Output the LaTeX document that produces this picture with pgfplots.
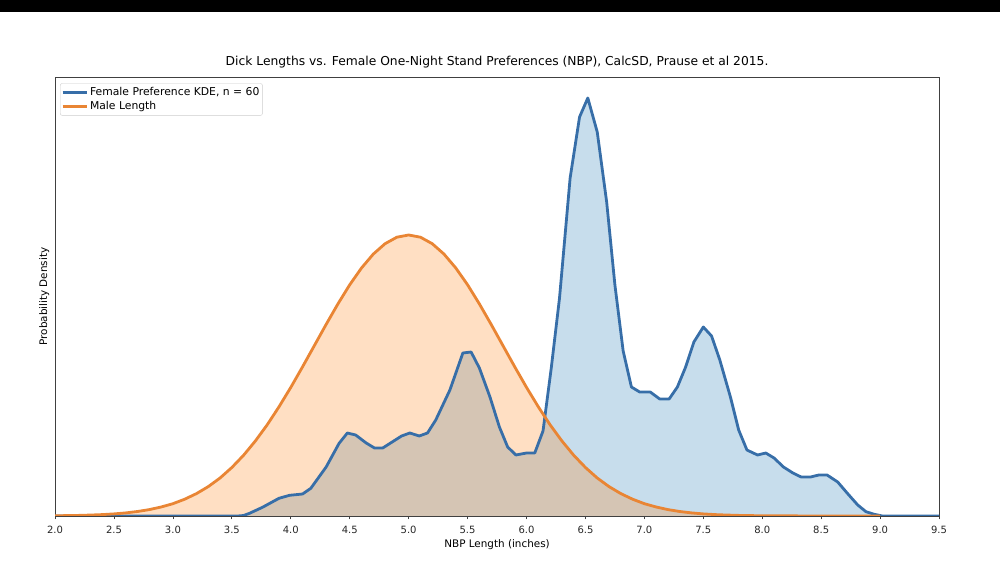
\documentclass[border=0pt]{standalone}
\usepackage{fontspec}
\setmainfont{DejaVu Sans}
\usepackage{pgfplots}
\pgfplotsset{compat=1.18}

\definecolor{kdeblue}{RGB}{31,119,180}
\definecolor{kdeblueline}{RGB}{55,110,168}
\definecolor{maleorange}{RGB}{255,127,14}
\definecolor{maleorangeline}{RGB}{233,133,52}

% Female preference KDE (x in inches, density in plot units)
\pgfplotstableread{
x h
2.00 0
3.55 0
3.60 0.5
3.65 2.7
3.76 8.7
3.90 17.7
3.99 20.7
4.10 22
4.17 27.7
4.30 49
4.41 72.7
4.48 83
4.55 81
4.64 73
4.71 68
4.78 68
4.86 74
4.94 80
5.01 83
5.09 80
5.16 83
5.23 96
5.35 126
5.46 163
5.53 164
5.60 148
5.69 119
5.77 89
5.84 69
5.91 61
6.00 63
6.07 63
6.14 85
6.21 148
6.28 218
6.37 338
6.45 399
6.52 418
6.60 384
6.68 314
6.75 231
6.82 165
6.89 129
6.96 124
7.05 124
7.13 117
7.21 117
7.28 129
7.35 149
7.42 174
7.50 189
7.57 180
7.64 156
7.73 119
7.80 86
7.87 66
7.96 61
8.03 63
8.10 58
8.18 49
8.26 43
8.33 39
8.41 39
8.48 41
8.55 41
8.64 34
8.72 23
8.81 11
8.88 4.3
8.95 1.7
9.02 0
9.50 0
}\femalekde

% Male length distribution
\pgfplotstableread{
x h
2.0 0.25
2.1 0.39
2.2 0.6
2.3 0.95
2.4 1.4
2.5 2.1
2.6 3.1
2.7 4.5
2.8 6.4
2.9 9.0
3.0 12.3
3.1 16.8
3.2 22.4
3.3 29.4
3.4 38.0
3.5 48.5
3.6 60.8
3.7 75.1
3.8 91.2
3.9 109.2
4.0 128.6
4.1 149.2
4.2 170.4
4.3 191.6
4.4 212.1
4.5 231.2
4.6 248.0
4.7 261.9
4.8 272.3
4.9 278.8
5.0 281.0
5.1 278.8
5.2 272.3
5.3 261.9
5.4 248.0
5.5 231.2
5.6 212.1
5.7 191.6
5.8 170.4
5.9 149.2
6.0 128.6
6.1 109.2
6.2 91.2
6.3 75.1
6.4 60.8
6.5 48.5
6.6 38.0
6.7 29.4
6.8 22.4
6.9 16.8
7.0 12.3
7.1 9.0
7.2 6.4
7.3 4.5
7.4 3.1
7.5 2.1
7.6 1.4
7.7 0.95
7.8 0.6
7.9 0.39
8.0 0.25
8.5 0
9.0 0
}\malelength

\begin{document}
\begin{tikzpicture}[x=1pt,y=1pt]
\path[use as bounding box] (0,0) rectangle (1000,575);
\fill[black] (0,563) rectangle (1000,575);
\begin{axis}[
  at={(46.7,59)}, anchor=south west,
  scale only axis, width=884pt, height=439pt,
  xmin=2, xmax=9.5, ymin=0, ymax=439,
  axis line style={black!75, line width=0.9pt},
  xtick={2,2.5,3,3.5,4,4.5,5,5.5,6,6.5,7,7.5,8,8.5,9,9.5},
  ytick=\empty,
  xtick pos=left, tick align=outside,
  major tick length=3.5pt,
  every tick/.style={black!75, line width=0.8pt},
  xticklabel style={font=\fontsize{10}{12}\selectfont, text=black!85, anchor=base, yshift=-14pt},
  xticklabel={\pgfmathprintnumber[fixed, fixed zerofill, precision=1]{\tick}},
  /pgf/number format/assume math mode=true,
  title={Dick Lengths vs. Female One-Night Stand Preferences (NBP), CalcSD, Prause et al 2015.},
  title style={font=\fontsize{12.3}{14}\selectfont, at={(axis description cs:0.5,1)}, anchor=base, yshift=5pt},
  xlabel={NBP Length (inches)},
  every axis x label/.style={at={(axis description cs:0.5,0)}, anchor=base, yshift=-31pt, font=\fontsize{10.4}{12}\selectfont},
  ylabel={Probability Density},
  every axis y label/.style={at={(axis description cs:0,0.5)}, rotate=90, anchor=base, yshift=8pt, font=\fontsize{10.4}{12}\selectfont},
  legend style={at={(axis description cs:0,1)}, anchor=north west, xshift=5pt, yshift=-6.3pt,
    draw=black!20, rounded corners=2pt, fill=white, font=\fontsize{10.8}{12.5}\selectfont,
    inner xsep=1pt, inner ysep=2pt, row sep=0.5pt},
  legend cell align=left,
  legend image code/.code={\draw[#1] (0pt,0pt) -- (24pt,0pt);},
]
\addplot[draw=none, fill=kdeblue, fill opacity=0.25, forget plot] table[x=x, y=h] {\femalekde} \closedcycle;
\addplot[draw=none, fill=maleorange, fill opacity=0.25, forget plot] table[x=x, y=h] {\malelength} \closedcycle;
\addplot[kdeblueline, line width=2.8pt, line join=round] table[x=x, y=h] {\femalekde};
\addlegendentry{Female Preference KDE, n = 60}
\addplot[maleorangeline, line width=2.8pt, line join=round] table[x=x, y=h] {\malelength};
\addlegendentry{Male Length}
\end{axis}
\end{tikzpicture}
\end{document}
